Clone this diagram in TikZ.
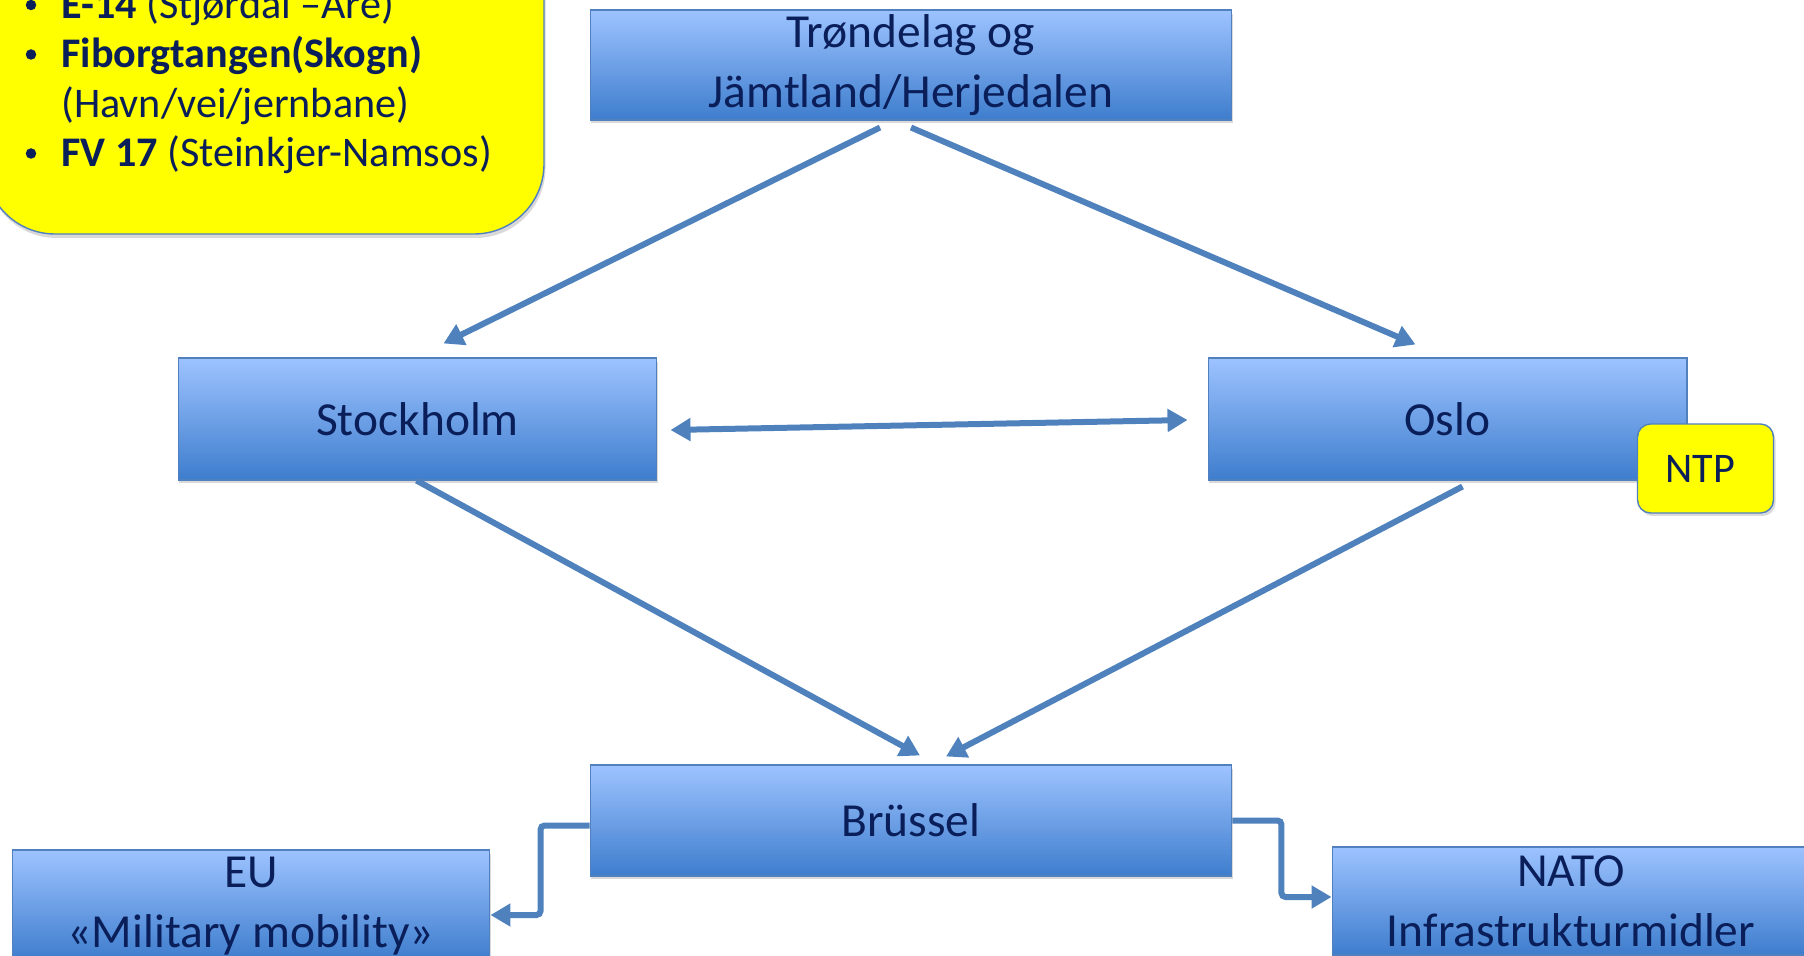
\documentclass[tikz,border=0pt]{standalone}
\usepackage{fontspec}
\setmainfont{Carlito}
\usetikzlibrary{arrows.meta, calc, shadows, positioning}

\definecolor{boxtop}{RGB}{157,195,255}
\definecolor{boxbot}{RGB}{62,125,205}
\definecolor{boxline}{RGB}{80,128,190}
\definecolor{navy}{RGB}{10,30,90}
\definecolor{linkblue}{RGB}{79,129,189}
\definecolor{noteyellow}{RGB}{255,255,0}

\tikzset{
    place/.style={draw=boxline, line width=0.6pt, top color=boxtop, bottom color=boxbot,
        text=navy, align=center, font=\fontsize{27}{34}\selectfont, inner sep=0pt,
        drop shadow={shadow xshift=0.02cm, shadow yshift=-0.07cm, opacity=0.3}},
    tag/.style={draw=boxline, line width=0.8pt, fill=noteyellow, text=navy,
        rounded corners=0.26cm, font=\fontsize{24}{28}\selectfont,
        minimum width=2.72cm, minimum height=1.78cm,
        drop shadow={shadow xshift=0.04cm, shadow yshift=-0.06cm, opacity=0.3}},
    noteline/.style={text=navy, inner sep=0pt, font=\fontsize{24}{28}\selectfont},
    dot/.style={circle, fill=navy, inner sep=0pt, minimum size=0.21cm},
    link/.style={draw=linkblue, line width=0.12cm, -{Triangle[length=0.4cm, width=0.44cm]}},
    twolink/.style={draw=linkblue, line width=0.12cm, {Triangle[length=0.4cm, width=0.44cm]}-{Triangle[length=0.4cm, width=0.44cm]}}
}

\begin{document}
\begin{tikzpicture}[x=0.02cm, y=-0.02cm]
    \clip (0,0) rectangle (1804,956);

    % yellow note, top left
    \draw[draw=boxline, line width=0.8pt, fill=noteyellow, rounded corners=1.4cm,
        drop shadow={shadow xshift=0.03cm, shadow yshift=-0.08cm, opacity=0.3}]
        (-15,-120) rectangle (544,234);
    \node[dot] (b1) at (31,5) {};
    \node[noteline, anchor=base west] (l1) at (61,18.5) {\textbf{E-14} (Stjørdal –Åre)};
    \node[dot] (b2) at (31,54.5) {};
    \node[noteline, anchor=base west] (l2) at (61,68) {\textbf{Fiborgtangen(Skogn)}};
    \node[noteline, anchor=base west] (l3) at (61,117.5) {(Havn/vei/jernbane)};
    \node[dot] (b4) at (31,153.5) {};
    \node[noteline, anchor=base west] (l4) at (61,167) {\textbf{FV 17} (Steinkjer-Namsos)};

    % boxes
    \node[place, minimum width=12.84cm, minimum height=2.2cm] (top) at (911,65) {Trøndelag og\\Jämtland/Herjedalen};
    \node[place, minimum width=9.58cm, minimum height=2.44cm] (sthlm) at (417.5,419) {Stockholm};
    \node[place, minimum width=9.58cm, minimum height=2.44cm] (oslo) at (1447.5,419) {Oslo};
    \node[tag, text width=2.4cm, align=center] (ntp) at (1705.5,468.5) {NTP\hspace*{0.2cm}};
    \node[place, minimum width=12.84cm, minimum height=2.22cm] (bru) at (911,820.5) {Brüssel};
    \node[place, minimum width=9.56cm, minimum height=2.2cm, text depth=0.1cm] (eu) at (251,905) {EU\\«Military mobility»};
    \node[place, minimum width=9.56cm, minimum height=2.16cm] (nato) at (1571,901) {NATO\\Infrastrukturmidler};

    % links
    \draw[link] ($(top.south)+(-31,7)$) -- ($(sthlm.north)+(26,-14)$);
    \draw[link] ($(top.south)+(0,7)$) -- ($(oslo.north)+(-32,-13)$);
    \draw[twolink] ($(sthlm.east)+(13,11)$) -- ($(oslo.west)+(-20,1)$);
    \draw[link] ($(sthlm.south)+(-1,0)$) -- ($(bru.north)+(9,-9)$);
    \draw[link] ($(oslo.south)+(15,6)$) -- ($(bru.north)+(35,-8)$);
    \draw[link, rounded corners=0.08cm] ($(bru.west)+(0,5)$) -- ++(-49,0) |- ($(eu.east)+(0,10)$);
    \draw[link, rounded corners=0.08cm] ($(bru.east)+(0,0)$) -- ++(49,0) |- ($(nato.west)+(0,-4)$);
\end{tikzpicture}
\end{document}
